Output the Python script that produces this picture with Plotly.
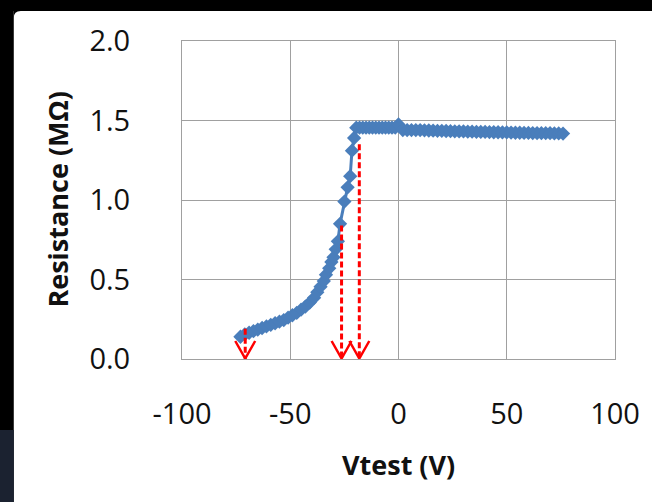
import plotly.graph_objects as go

# ---- data ----
vtest = [-73, -71, -69, -67, -65, -63, -61, -59, -57, -55, -53, -51, -49, -47, -45, -43, -41,
         -39, -37.5, -36, -34.5, -33.5, -32, -31, -30, -29, -28, -27, -25, -23.5, -22.3, -21.5,
         -20.5, -19.5, -18, -16.5, -15, -13.5, -12, -10.5, -9, -7.5, -6, -4.5, -3, -1.5, 0,
         2, 4, 6, 8, 10, 12, 14, 16, 18, 20, 22, 24, 26, 28, 30, 32, 34, 36, 38, 40, 42, 44,
         46, 48, 50, 52, 54, 56, 58, 60, 62, 64, 66, 68, 70, 72, 74, 76]
resistance = [0.14, 0.155, 0.165, 0.175, 0.185, 0.195, 0.205, 0.215, 0.225, 0.235, 0.245, 0.26,
              0.275, 0.29, 0.31, 0.33, 0.355, 0.385, 0.42, 0.455, 0.49, 0.53, 0.57, 0.61, 0.64,
              0.69, 0.74, 0.85, 0.99, 1.08, 1.15, 1.31, 1.39, 1.455, 1.455, 1.455, 1.455, 1.455,
              1.455, 1.455, 1.455, 1.455, 1.455, 1.455, 1.455, 1.455, 1.475,
              1.44, 1.44, 1.44, 1.44, 1.44, 1.438, 1.437, 1.436, 1.435, 1.435, 1.434, 1.433,
              1.432, 1.432, 1.431, 1.43, 1.43, 1.429, 1.428, 1.428, 1.427, 1.426, 1.426, 1.425,
              1.425, 1.424, 1.423, 1.423, 1.422, 1.422, 1.421, 1.421, 1.42, 1.42, 1.42, 1.419,
              1.419, 1.418]

# red dashed marker arrows (x position in V, top of stem in MOhm)
arrow_x = [-70.8, -26.3, -18.1]
arrow_top = [0.19, 0.84, 1.35]

x_ticks = [-100, -50, 0, 50, 100]
y_ticks = [0.0, 0.5, 1.0, 1.5, 2.0]

W, H = 652, 502
L, R, T, B = 182, 35, 41, 143
PW, PH = W - L - R, H - T - B


def px(xp):
    return (xp - L) / PW


def py(yp):
    return (H - B - yp) / PH


fig = go.Figure()
fig.add_trace(go.Scatter(
    x=vtest, y=resistance, mode="lines+markers",
    line=dict(color="#4a7ebb", width=3),
    marker=dict(symbol="diamond", size=11, color="#4a7ebb"),
    showlegend=False, hoverinfo="skip"))

shapes = []
# page frame: black strips on top/left
shapes.append(dict(type="rect", xref="paper", yref="paper", x0=px(-5), x1=px(13), y0=py(510), y1=py(-5),
                   fillcolor="black", line_width=0, layer="below"))
shapes.append(dict(type="rect", xref="paper", yref="paper", x0=px(-5), x1=px(660), y0=py(11), y1=py(-5),
                   fillcolor="black", line_width=0, layer="below"))
shapes.append(dict(type="rect", xref="paper", yref="paper", x0=px(-5), x1=px(13), y0=py(510), y1=py(430),
                   fillcolor="#1b2230", line_width=0, layer="below"))
# rounded top-left corner of the white panel
shapes.append(dict(type="path", xref="paper", yref="paper", layer="below", line_width=0, fillcolor="black",
                   path=f"M {px(13)},{py(11)} L {px(20)},{py(11)} Q {px(13)},{py(11)} {px(13)},{py(18)} Z"))

sx = 200 / PW   # V per pixel
sy = 2.0 / PH   # MOhm per pixel
for ax_, at in zip(arrow_x, arrow_top):
    shapes.append(dict(type="line", x0=ax_, x1=ax_, y0=at, y1=0, xref="x", yref="y",
                       line=dict(color="#ff0000", width=3, dash="6px,3px")))
    shapes.append(dict(type="path", xref="x", yref="y",
                       path=f"M {ax_ - 10*sx},{18*sy} L {ax_},{0.5*sy} L {ax_ + 10*sx},{18*sy}",
                       line=dict(color="#ff0000", width=2.5)))

font = "Open Sans"
fig.update_layout(
    width=W, height=H,
    margin=dict(l=L, r=R, t=T, b=B),
    paper_bgcolor="white", plot_bgcolor="white",
    shapes=shapes,
    xaxis=dict(range=[-100, 100], tickvals=x_ticks, ticktext=[str(v) for v in x_ticks],
               showgrid=True, gridcolor="#a0a0a0", gridwidth=1,
               showline=True, linecolor="#a0a0a0", linewidth=1, mirror=True,
               zeroline=False, ticks="", ticklabelstandoff=29,
               tickfont=dict(family=font, size=29, color="#111111")),
    yaxis=dict(range=[0, 2], tickvals=y_ticks, ticktext=[f"{v:.1f}" for v in y_ticks],
               showgrid=True, gridcolor="#a0a0a0", gridwidth=1,
               showline=True, linecolor="#a0a0a0", linewidth=1, mirror=True,
               zeroline=False, ticks="", ticklabelstandoff=45,
               tickfont=dict(family=font, size=29, color="#111111")),
    annotations=[
        dict(text="<b>Vtest (V)</b>", xref="paper", yref="paper", x=px(400), y=py(464),
             showarrow=False, xanchor="center", yanchor="middle",
             font=dict(family=font, size=27, color="#111111")),
        dict(text="<b>Resistance (MΩ)</b>", xref="paper", yref="paper", x=px(56), y=py(200),
             showarrow=False, xanchor="center", yanchor="middle", textangle=-90,
             font=dict(family=font, size=27, color="#111111")),
    ],
)

fig.write_html(
    "out.html",
    config={"displayModeBar": False, "staticPlot": True},
    post_script="document.body.style.margin='0';document.body.style.overflow='hidden';"
                "document.body.style.background='white';",
)
